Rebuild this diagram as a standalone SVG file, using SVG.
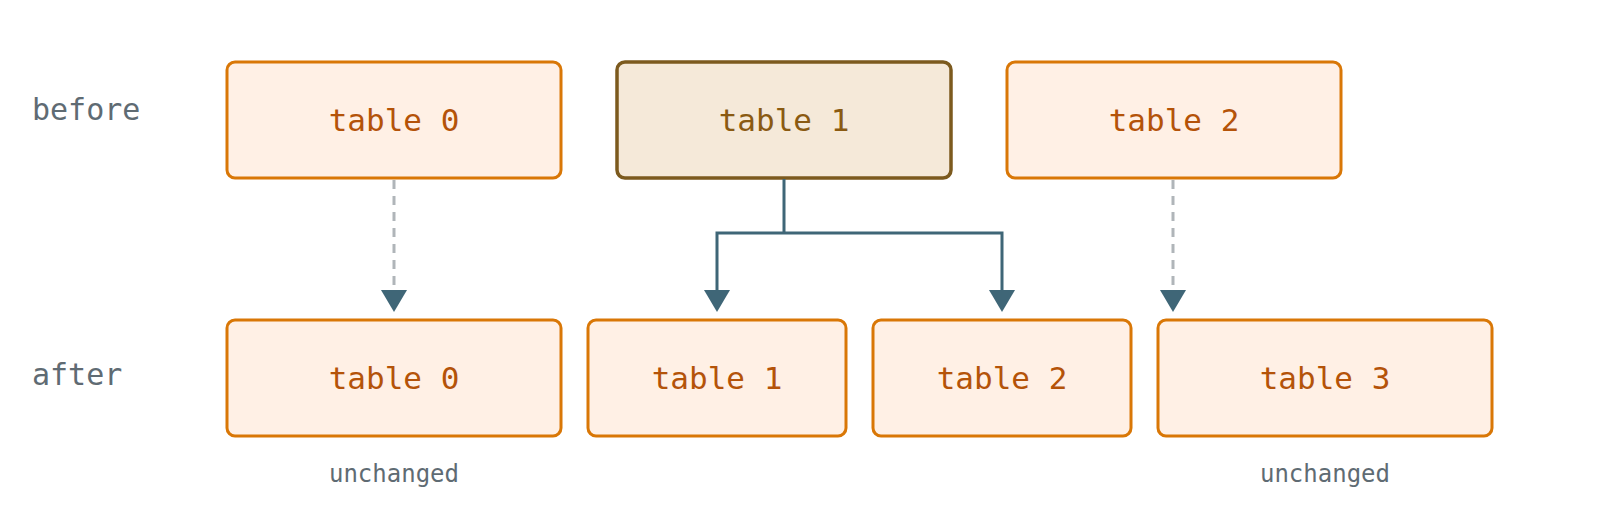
<svg xmlns="http://www.w3.org/2000/svg" width="1600" height="527" viewBox="0 0 1600 527">
<style>
.n{fill:#fff0e5;stroke:#d97706;stroke-width:3}
.h{fill:#f5e9d9;stroke:#7c5a1e;stroke-width:3.5}
.t{font-family:"DejaVu Sans Mono",monospace;font-size:31px;fill:#b45309;text-anchor:middle}
.th{fill:#8a5a12}
.l{font-family:"DejaVu Sans Mono",monospace;font-size:30px;fill:#5f6b73}
.u{font-family:"DejaVu Sans Mono",monospace;font-size:24px;fill:#5f6b73;text-anchor:middle}
.c{fill:none;stroke:#3f6677;stroke-width:3}
.d{fill:none;stroke:#b0b5b9;stroke-width:3;stroke-dasharray:9,7}
</style>
<defs>
<marker id="a" viewBox="0 0 10 10" refX="10" refY="5" markerWidth="26" markerHeight="24" markerUnits="userSpaceOnUse" orient="auto"><path d="M0,0L10,5L0,10z" fill="#3f6677"/></marker>
</defs>
<text class="l" x="32" y="120">before</text>
<text class="l" x="32" y="385">after</text>
<g id="b0"><rect class="n" x="227" y="62" width="334" height="116" rx="8"/><text class="t" x="394" y="131">table 0</text></g>
<g id="b1"><rect class="h" x="617" y="62" width="334" height="116" rx="8"/><text class="t th" x="784" y="131">table 1</text></g>
<g id="b2"><rect class="n" x="1007" y="62" width="334" height="116" rx="8"/><text class="t" x="1174" y="131">table 2</text></g>
<g id="a0"><rect class="n" x="227" y="320" width="334" height="116" rx="8"/><text class="t" x="394" y="389">table 0</text></g>
<g id="a1"><rect class="n" x="588" y="320" width="258" height="116" rx="8"/><text class="t" x="717" y="389">table 1</text></g>
<g id="a2"><rect class="n" x="873" y="320" width="258" height="116" rx="8"/><text class="t" x="1002" y="389">table 2</text></g>
<g id="a3"><rect class="n" x="1158" y="320" width="334" height="116" rx="8"/><text class="t" x="1325" y="389">table 3</text></g>
<text class="u" x="394" y="482">unchanged</text>
<text class="u" x="1325" y="482">unchanged</text>
<g id="connectors">
<path class="d" d="M394,180V292"/>
<path d="M381,290L407,290L394,312z" fill="#3f6677"/>
<path class="d" d="M1173,180V292"/>
<path d="M1160,290L1186,290L1173,312z" fill="#3f6677"/>
<path class="c" d="M784,179V233H717V292M784,233H1002V292"/>
<path d="M704,290L730,290L717,312z" fill="#3f6677"/>
<path d="M989,290L1015,290L1002,312z" fill="#3f6677"/>
</g>
</svg>
